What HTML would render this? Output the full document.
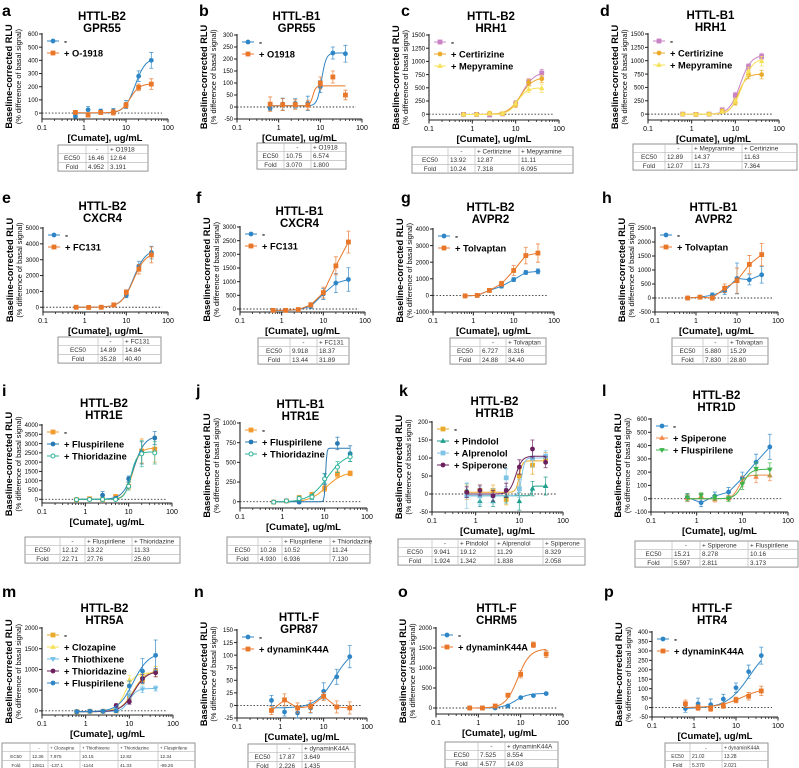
<!DOCTYPE html>
<html><head><meta charset="utf-8">
<style>
html,body{margin:0;padding:0;background:#fff;}
svg{display:block;font-family:"Liberation Sans",Arial,sans-serif;}
</style></head>
<body>
<svg id="fig" width="799" height="768" viewBox="0 0 799 768" xmlns="http://www.w3.org/2000/svg"></svg>
<script>
// ---- data ----
const doses = [0.625, 1.25, 2.5, 5, 10, 20, 40];
const xTickLabels = ["0.1", "1", "10", "100"];

const aBase = [-25, 25, 15, 15, 65, 280, 400];      const aBaseErr = [10, 25, 15, 20, 30, 40, 60];
const aO1918 = [5, -15, 5, 5, 60, 195, 220];         const aO1918Err = [10, 15, 15, 20, 20, 25, 40];
const bBase = [-5, 12, 15, 15, 85, 225, 222];        const bBaseErr = [10, 25, 20, 30, 25, 25, 35];
const bO1918 = [12, 10, 10, 8, 100, 125, 50];        const bO1918Err = [30, 25, 20, 20, 25, 25, 20];
const cBase = [-5, -5, -15, 5, 200, 610, 780];       const cBaseErr = [20, 20, 20, 30, 60, 60, 70];
const cCert = [-5, -5, 20, 10, 180, 600, 670];       const cCertErr = [20, 20, 30, 30, 50, 60, 70];
const cMepy = [-5, -5, 10, 10, 200, 470, 490];       const cMepyErr = [20, 20, 30, 30, 50, 60, 80];
const dBase = [0, -5, 0, 80, 350, 890, 1080];        const dBaseErr = [20, 20, 20, 30, 60, 50, 60];
const dCert = [0, -5, 0, 60, 220, 740, 740];         const dCertErr = [20, 20, 20, 30, 50, 80, 80];
const dMepy = [0, -5, 0, 50, 250, 800, 990];         const dMepyErr = [20, 20, 20, 30, 50, 80, 90];
const eBase = [0, -10, 0, 150, 750, 2600, 3450];     const eBaseErr = [50, 50, 50, 80, 150, 300, 400];
const eFC = [0, -10, 0, 150, 950, 2400, 3300];       const eFCErr = [50, 50, 50, 80, 150, 300, 500];
const fBase = [-50, -50, -30, 100, 550, 950, 1080];  const fBaseErr = [50, 50, 50, 80, 200, 350, 430];
const fFC = [-50, -50, -20, 150, 600, 1580, 2450];   const fFCErr = [50, 50, 50, 80, 200, 330, 400];
const gBase = [-30, 0, 300, 550, 950, 1380, 1450];   const gBaseErr = [60, 60, 80, 100, 120, 120, 150];
const gTolv = [-30, 0, 300, 700, 1500, 2400, 2550];  const gTolvErr = [60, 60, 80, 150, 300, 500, 550];
const hBase = [0, 30, 100, 250, 700, 650, 830];      const hBaseErr = [40, 40, 80, 120, 550, 180, 300];
const hTolv = [0, 30, 0, 350, 620, 1200, 1550];      const hTolvErr = [40, 40, 80, 150, 450, 320, 400];
const iBase = [-20, 30, -10, 150, 700, 2600, 2700];  const iBaseErr = [50, 50, 80, 80, 200, 650, 700];
const iFlus = [-20, -10, 220, 50, 1100, 2500, 3300]; const iFlusErr = [50, 50, 200, 80, 150, 600, 350];
const iThio = [-20, -10, -10, -10, 700, 2450, 2500]; const iThioErr = [50, 50, 80, 80, 200, 700, 600];
const jBase = [-5, 10, 50, 90, 170, 350, 360];       const jBaseErr = [15, 15, 30, 30, 40, 40, 30];
const jFlus = [-5, 10, -5, 60, 290, 740, 610];       const jFlusErr = [15, 15, 20, 30, 70, 80, 100];
const jThio = [-5, 10, 40, 60, 290, 440, 570];       const jThioErr = [15, 15, 30, 30, 60, 70, 60];
const kBase = [5, 10, 10, -15, 50, 80, 100];         const kBaseErr = [20, 15, 15, 15, 25, 25, 15];
const kPind = [10, -20, -20, -5, -20, 15, 22];       const kPindErr = [20, 15, 15, 20, 25, 20, 25];
const kAlpr = [-5, -5, -5, 45, 15, 100, 105];        const kAlprErr = [35, 25, 20, 25, 25, 25, 15];
const kSpip = [5, 10, -5, 10, 75, 125, 88];          const kSpipErr = [15, 15, 15, 20, 20, 25, 15];
const lBase = [10, -30, 20, 50, 155, 275, 390];      const lBaseErr = [30, 30, 30, 35, 45, 60, 95];
const lSpip = [5, 20, -5, 5, 130, 165, 175];         const lSpipErr = [25, 20, 20, 20, 40, 45, 40];
const lFlus = [10, 25, 10, 0, 110, 225, 220];        const lFlusErr = [25, 20, 20, 20, 40, 50, 50];
const mBase = [-20, -10, -10, 0, 350, 750, 950];     const mBaseErr = [30, 30, 30, 40, 80, 100, 120];
const mCloz = [-20, -10, -10, 50, 750, 850, 950];    const mClozErr = [30, 30, 30, 40, 100, 100, 120];
const mThix = [-20, -10, -10, 50, 350, 520, 540];    const mThixErr = [30, 30, 30, 40, 80, 80, 60];
const mThio = [-20, -10, -10, 130, 220, 780, 920];   const mThioErr = [30, 30, 30, 40, 60, 100, 100];
const mFlus = [-20, -10, -10, 0, 600, 960, 1340];    const mFlusErr = [30, 30, 30, 40, 120, 300, 370];
const nBase = [10, -13, -15, -5, 28, 57, 97];        const nBaseErr = [10, 8, 10, 10, 17, 15, 22];
const nDyn = [-10, 11, -5, -2, 18, -3, -5];          const nDynErr = [8, 12, 10, 12, 8, 12, 12];
const oBase = [0, 0, 0, 50, 260, 310, 360];          const oBaseErr = [15, 15, 15, 20, 25, 25, 25];
const oDyn = [0, 0, 50, 320, 840, 1580, 1350];       const oDynErr = [15, 15, 20, 40, 90, 70, 90];
const pBase = [-5, 20, 15, 45, 105, 190, 275];       const pBaseErr = [20, 30, 30, 25, 25, 35, 45];
const pDyn = [20, 0, -5, 10, 40, 60, 88];            const pDynErr = [20, 15, 15, 15, 15, 20, 25];

// ---- styles & layout ----
const BLUE = "#2f86c6", ORANGE = "#e8772a", PINK = "#c983c4", GOLD = "#eaaa2a", YEL = "#f7e05a",
      ORG2 = "#f49a2c", GREEN = "#2db39a", TEAL = "#1e9e8c", LBLUE = "#7fc3e6", PURP = "#6b1f5e",
      SORANGE = "#f28a4a", LGREEN = "#3cb44b";

function S(name, label, vals, errs, color, shape, fit) { return {name, label, vals, errs, color, shape, fit}; }

const panels = [
 {id:"a", letter:[2,16], t1:"HTTL-B2", t2:"GPR55", ty:16, L:42, R:168, top:34, bot:119, yMin:-45, yMax:600, step:100,
  series:[S("base","-",aBase,aBaseErr,BLUE,"circle",[16.5,420,0,3.5]), S("o1918","+ O-1918",aO1918,aO1918Err,ORANGE,"square",[12.6,222,2,4])],
  table:{x:58,y:145,w:[28,22,40],head:["","-","+ O1918"],ec:["16.46","12.64"],fold:["4.952","3.191"]}},
 {id:"b", letter:[199,16], t1:"HTTL-B1", t2:"GPR55", ty:16, L:237, R:362, top:35, bot:119, yMin:-50, yMax:300, step:50,
  series:[S("base","-",bBase,bBaseErr,BLUE,"circle",[10.75,225,5,8]), S("o1918","+ O1918",bO1918,bO1918Err,ORANGE,"square",[6.6,88,5,12])],
  table:{x:257,y:143,w:[27,27,35],head:["","-","+ O1918"],ec:["10.75","6.574"],fold:["3.070","1.800"]}},
 {id:"c", letter:[401,16], t1:"HTTL-B2", t2:"HRH1", ty:16, L:429, R:559, top:35, bot:120, yMin:-110, yMax:1500, step:250,
  series:[S("base","-",cBase,cBaseErr,PINK,"square",[13.9,800,-5,3]), S("certirizine","+ Certirizine",cCert,cCertErr,GOLD,"circle",[12.9,700,-5,3]), S("mepyramine","+ Mepyramine",cMepy,cMepyErr,YEL,"triangle",[11.1,500,-5,4])],
  table:{x:412,y:147,w:[36,27,44,54],head:["","-","+ Certirizine","+ Mepyramine"],ec:["13.92","12.87","11.11"],fold:["10.24","7.318","6.095"]}},
 {id:"d", letter:[600,16], t1:"HTTL-B1", t2:"HRH1", ty:15, L:648, R:779, top:34, bot:120, yMin:-110, yMax:1500, step:250,
  series:[S("base","-",dBase,dBaseErr,PINK,"square",[12.9,1110,0,3.5]), S("certirizine","+ Certirizine",dCert,dCertErr,GOLD,"circle",[11.6,750,0,4.5]), S("mepyramine","+ Mepyramine",dMepy,dMepyErr,YEL,"triangle",[14.4,1050,0,3.5])],
  table:{x:633,y:144,w:[32,27,50,55],head:["","-","+ Mepyramine","+ Certirizine"],ec:["12.89","14.37","11.63"],fold:["12.07","11.73","7.364"]}},
 {id:"e", letter:[2,203], t1:"HTTL-B2", t2:"CXCR4", ty:206, L:43, R:168, top:228, bot:312, yMin:-300, yMax:5000, step:1000,
  series:[S("base","-",eBase,eBaseErr,BLUE,"circle",[14.9,3650,0,3]), S("fc131","+ FC131",eFC,eFCErr,ORANGE,"square",[14.8,3450,0,3])],
  table:{x:58,y:337,w:[40,25,38],head:["","-","+ FC131"],ec:["14.89","14.84"],fold:["35.28","40.40"]}},
 {id:"f", letter:[196,203], t1:"HTTL-B1", t2:"CXCR4", ty:211, L:240, R:365, top:227, bot:312, yMin:-110, yMax:3000, step:500,
  series:[S("base","-",fBase,fBaseErr,BLUE,"circle",null), S("fc131","+ FC131",fFC,fFCErr,ORANGE,"square",null)],
  table:{x:258,y:338,w:[32,27,32],head:["","-","+ FC131"],ec:["9.918","18.37"],fold:["13.44","31.89"]}},
 {id:"g", letter:[401,203], t1:"HTTL-B2", t2:"AVPR2", ty:207, L:433, R:554, top:229, bot:312, yMin:-1000, yMax:4000, step:1000,
  series:[S("base","-",gBase,gBaseErr,BLUE,"circle",null), S("tolvaptan","+ Tolvaptan",gTolv,gTolvErr,ORANGE,"square",null)],
  table:{x:450,y:338,w:[30,26,40],head:["","-","+ Tolvaptan"],ec:["6.727","8.316"],fold:["24.88","34.40"]}},
 {id:"h", letter:[602,203], t1:"HTTL-B1", t2:"AVPR2", ty:207, L:655, R:778, top:228, bot:312, yMin:-500, yMax:2500, step:500,
  series:[S("base","-",hBase,hBaseErr,BLUE,"circle",null), S("tolvaptan","+ Tolvaptan",hTolv,hTolvErr,ORANGE,"square",null)],
  table:{x:672,y:338,w:[31,25,40],head:["","-","+ Tolvaptan"],ec:["5.880","15.29"],fold:["7.830","28.80"]}},
 {id:"i", letter:[2,396], t1:"HTTL-B2", t2:"HTR1E", ty:403, L:42, R:172, top:425, bot:503, yMin:-200, yMax:4000, step:500,
  series:[S("base","-",iBase,iBaseErr,ORG2,"square",[12.1,2750,0,5]), S("fluspirilene","+ Fluspirilene",iFlus,iFlusErr,"#2779b5","circle",[13.2,3400,0,3.5]), S("thioridazine","+ Thioridazine",iThio,iThioErr,GREEN,"open",[11.3,2550,0,6])],
  table:{x:25,y:537,w:[35,25,47,48],head:["","-","+ Fluspirilene","+ Thioridazine"],ec:["12.12","13.22","11.33"],fold:["22.71","27.76","25.60"]}},
 {id:"j", letter:[196,396], t1:"HTTL-B1", t2:"HTR1E", ty:404, L:240, R:367, top:423, bot:508, yMin:-80, yMax:1000, step:250,
  series:[S("base","-",jBase,jBaseErr,ORG2,"square",[11,380,-5,2.2]), S("fluspirilene","+ Fluspirilene",jFlus,jFlusErr,"#2779b5","circle",[10.5,680,0,30]), S("thioridazine","+ Thioridazine",jThio,jThioErr,GREEN,"open",[11.5,620,-5,2])],
  table:{x:227,y:537,w:[31,24,48,40],head:["","-","+ Fluspirilene","+ Thioridazine"],ec:["10.28","10.52","11.24"],fold:["4.930","6.936","7.130"]}},
 {id:"k", letter:[399,396], t1:"HTTL-B2", t2:"HTR1B", ty:401, L:432, R:563, top:422, bot:512, yMin:-50, yMax:200, step:50,
  series:[S("base","-",kBase,kBaseErr,GOLD,"square",[9.9,92,5,12]), S("pindolol","+ Pindolol",kPind,kPindErr,TEAL,"triangle",[19,22,-5,30]), S("alprenolol","+ Alprenolol",kAlpr,kAlprErr,LBLUE,"square",[11.3,100,-5,12]), S("spiperone","+ Spiperone",kSpip,kSpipErr,PURP,"circle",[8.3,105,0,6])],
  table:{x:398,y:539,w:[34,26,37,48,42],head:["","-","+ Pindolol","+ Alprenolol","+ Spiperone"],ec:["9.941","19.12","11.29","8.329"],fold:["1.924","1.342","1.838","2.058"]}},
 {id:"l", letter:[602,396], t1:"HTTL-B2", t2:"HTR1D", ty:395, L:651, R:788, top:419, bot:512, yMin:-100, yMax:600, step:100,
  series:[S("base","-",lBase,lBaseErr,BLUE,"circle",null), S("spiperone","+ Spiperone",lSpip,lSpipErr,SORANGE,"triangle",[8.3,178,0,6]), S("fluspirilene","+ Fluspirilene",lFlus,lFlusErr,LGREEN,"tridown",[10.2,222,0,5])],
  table:{x:635,y:541,w:[37,28,48,50],head:["","-","+ Spiperone","+ Fluspirilene"],ec:["15.21","8.278","10.16"],fold:["5.597","2.811","3.173"]}},
 {id:"m", letter:[2,597], t1:"HTTL-B2", t2:"HTR5A", ty:608, L:42, R:173, top:628, bot:715, yMin:-100, yMax:2000, step:500,
  series:[S("base","-",mBase,mBaseErr,GOLD,"square",[12.4,980,-20,3]), S("clozapine","+ Clozapine",mCloz,mClozErr,YEL,"triangle",[8,920,-20,4]), S("thiothixene","+ Thiothixene",mThix,mThixErr,"#70c0e8","tridown",[10,540,-20,5]), S("thioridazine","+ Thioridazine",mThio,mThioErr,PURP,"circle",[12.8,960,-20,3]), S("fluspirilene","+ Fluspirilene",mFlus,mFlusErr,BLUE,"circle",[12.3,1400,-20,2.5])],
  table:{x:2,y:743,w:[28,18,32,38,40,37],head:["","-","+ Clozapine","+ Thiothixene","+ Thioridazine","+ Fluspirilene"],ec:["12.36","7.975","10.15","12.82","12.34"],fold:["12811","-137.1","-1144","41.33","-99.26"],fs:4.6}},
 {id:"n", letter:[194,597], t1:"HTTL-F", t2:"GPR87", ty:617, L:237, R:367, top:630, bot:718, yMin:-25, yMax:150, step:25,
  series:[S("base","-",nBase,nBaseErr,BLUE,"circle",[17.9,115,-5,2]), S("dynamin","+ dynaminK44A",nDyn,nDynErr,ORANGE,"square",null)],
  table:{x:248,y:744,w:[29,25,53],head:["","-","+ dynaminK44A"],ec:["17.87","3.649"],fold:["2.226","1.435"]}},
 {id:"o", letter:[398,597], t1:"HTTL-F", t2:"CHRM5", ty:608, L:436, R:563, top:628, bot:714, yMin:-150, yMax:2000, step:500,
  series:[S("base","-",oBase,oBaseErr,BLUE,"circle",[7.5,365,0,3]), S("dynamin","+ dynaminK44A",oDyn,oDynErr,ORANGE,"square",[8.5,1480,0,3])],
  table:{x:445,y:742,w:[33,27,53],head:["","-","+ dynaminK44A"],ec:["7.525","8.554"],fold:["4.577","14.03"]}},
 {id:"p", letter:[604,597], t1:"HTTL-F", t2:"HTR4", ty:608, L:652, R:778, top:632, bot:717, yMin:-50, yMax:400, step:50,
  series:[S("base","-",pBase,pBaseErr,BLUE,"circle",[21,340,-5,1.6]), S("dynamin","+ dynaminK44A",pDyn,pDynErr,ORANGE,"square",[13.3,105,0,1.6])],
  table:{x:665,y:743,w:[25,32,46],head:["","-","+ dynaminK44A"],ec:["21.02","13.28"],fold:["5.370","2.021"],fs:5}}
];

const NS = "http://www.w3.org/2000/svg";
const svg = document.getElementById("fig");
function mk(tag, attrs, parent, text) {
  const e = document.createElementNS(NS, tag);
  for (const k in attrs) e.setAttribute(k, attrs[k]);
  if (text !== undefined) e.textContent = text;
  (parent || svg).appendChild(e);
  return e;
}
function marker(g, shape, cx, cy, color, r) {
  let el;
  if (shape === "circle") el = mk("circle", {cx, cy, r, fill: color}, g);
  else if (shape === "open") el = mk("circle", {cx, cy, r: r - 0.4, fill: "#fff", stroke: color, "stroke-width": 1}, g);
  else if (shape === "square") el = mk("rect", {x: cx - r, y: cy - r, width: 2 * r, height: 2 * r, fill: color}, g);
  else if (shape === "triangle") el = mk("polygon", {points: `${cx},${cy - r - 0.6} ${cx - r - 0.4},${cy + r * 0.8} ${cx + r + 0.4},${cy + r * 0.8}`, fill: color}, g);
  else el = mk("polygon", {points: `${cx},${cy + r + 0.6} ${cx - r - 0.4},${cy - r * 0.8} ${cx + r + 0.4},${cy - r * 0.8}`, fill: color}, g);
  return el;
}

panels.forEach(p => {
  const g = mk("g", {});
  
  
  const xs = v => p.L + (Math.log10(v) + 1) / 3 * (p.R - p.L);
  const ys = v => p.bot - (v - p.yMin) / (p.yMax - p.yMin) * (p.bot - p.top);

  const lt = mk("text", {x: p.letter[0], y: p.letter[1], "font-size": 16, "font-weight": "bold", fill: "#000"}, g, p.id);
  
  
  const cx = (p.L + p.R) / 2 - 3;
  const t1 = mk("text", {x: cx, y: p.ty + 4, "font-size": 11.5, "font-weight": "bold", "text-anchor": "middle"}, g, p.t1);
  
  
  const t2 = mk("text", {x: cx, y: p.ty + 16, "font-size": 11.5, "font-weight": "bold", "text-anchor": "middle"}, g, p.t2);
  
  

  // y axis title
  const ym = (p.top + p.bot) / 2;
  const yt1 = mk("text", {x: 0, y: 0, "font-size": 9.2, "font-weight": "bold", "text-anchor": "middle", transform: `translate(${p.L - 30},${ym}) rotate(-90)`}, g, "Baseline-corrected RLU");
  
  
  const yt2 = mk("text", {x: 0, y: 0, "font-size": 7.4, "text-anchor": "middle", transform: `translate(${p.L - 21},${ym}) rotate(-90)`}, g, "(% difference of basal signal)");
  
  

  // axes
  const ax = mk("path", {d: `M${p.L},${p.top - 1}V${p.bot}H${p.R}`, stroke: "#222", "stroke-width": 1.1, fill: "none"}, g);
  
  
  for (let v = Math.ceil(p.yMin / p.step) * p.step; v <= p.yMax + 1e-9; v += p.step) {
    const y = ys(v);
    mk("line", {x1: p.L - 3, x2: p.L, y1: y, y2: y, stroke: "#222", "stroke-width": 1}, g);
    const tl = mk("text", {x: p.L - 4, y: y + 2.2, "font-size": 6, "text-anchor": "end"}, g, String(v));
    
    
  }
  for (let d = -1; d <= 2; d++) {
    const x = xs(Math.pow(10, d));
    mk("line", {x1: x, x2: x, y1: p.bot, y2: p.bot + 3.5, stroke: "#222", "stroke-width": 1}, g);
    const tl = mk("text", {x, y: p.bot + 11, "font-size": 7, "text-anchor": "middle"}, g, xTickLabels[d + 1]);
    
    
    if (d < 2) for (let m = 2; m <= 9; m++) {
      const xm = xs(m * Math.pow(10, d));
      mk("line", {x1: xm, x2: xm, y1: p.bot, y2: p.bot + 2, stroke: "#222", "stroke-width": 0.8}, g);
    }
  }
  const xl = mk("text", {x: (p.L + p.R) / 2, y: p.bot + 22, "font-size": 9.5, "font-weight": "bold", "text-anchor": "middle"}, g, "[Cumate], ug/mL");
  
  
  // zero line
  const zl = mk("line", {x1: p.L, x2: p.R - 6, y1: ys(0), y2: ys(0), stroke: "#333", "stroke-width": 0.9, "stroke-dasharray": "1.5,1.8"}, g);
  
  

  // series
  p.series.forEach((s, si) => {
    const sg = mk("g", {}, g);
    
    
    let d = "";
    if (s.fit) {
      const [ec, top, bottom, h] = s.fit;
      for (let i = 0; i <= 80; i++) {
        const x = Math.pow(10, Math.log10(doses[0]) + i / 80 * (Math.log10(doses[doses.length - 1]) - Math.log10(doses[0])));
        const y = bottom + (top - bottom) / (1 + Math.pow(ec / x, h));
        d += (i ? "L" : "M") + xs(x).toFixed(2) + "," + ys(y).toFixed(2);
      }
    } else {
      s.vals.forEach((v, i) => { d += (i ? "L" : "M") + xs(doses[i]).toFixed(2) + "," + ys(v).toFixed(2); });
    }
    const ln = mk("path", {d, stroke: s.color, "stroke-width": 1, fill: "none"}, sg);
    
    
    s.vals.forEach((v, i) => {
      const x = xs(doses[i]), y = ys(v), e = s.errs[i];
      const y1 = ys(v + e), y2 = ys(v - e);
      const eb = mk("path", {d: `M${x},${y1}V${y2}M${x - 2},${y1}H${x + 2}M${x - 2},${y2}H${x + 2}`, stroke: s.color, "stroke-width": 0.8, fill: "none", opacity: 0.85}, sg);
      
      
      const mkr = marker(sg, s.shape, x, y, s.color, 2.4);
      
      
    });
    // legend
    const ly = p.top + 7 + si * 12;
    const lg = mk("g", {}, g);
    
    
    mk("line", {x1: p.L + 5, x2: p.L + 17, y1: ly, y2: ly, stroke: s.color, "stroke-width": 1}, lg);
    marker(lg, s.shape, p.L + 11, ly, s.color, 2.4);
    mk("text", {x: p.L + 22, y: ly + 3.3, "font-size": 9.3, "font-weight": "bold"}, lg, s.label);
  });

  // table
  const t = p.table, rh = 8.7, fs = t.fs || 6.4;
  const tg = mk("g", {}, g);
  
  
  const tw = t.w.reduce((a, b) => a + b, 0);
  mk("rect", {x: t.x, y: t.y, width: tw, height: rh * 3, fill: "#fff", stroke: "#888", "stroke-width": 0.9}, tg);
  for (let r = 1; r < 3; r++) mk("line", {x1: t.x, x2: t.x + tw, y1: t.y + r * rh, y2: t.y + r * rh, stroke: "#bbb", "stroke-width": 0.7}, tg);
  let cxp = t.x;
  const rows = [t.head, ["EC50"].concat(t.ec), ["Fold"].concat(t.fold)];
  t.w.forEach((w, ci) => {
    if (ci > 0) mk("line", {x1: cxp, x2: cxp, y1: t.y, y2: t.y + rh * 3, stroke: "#bbb", "stroke-width": 0.7}, tg);
    rows.forEach((row, ri) => {
      const txt = row[ci];
      if (!txt) return;
      const centered = ci === 0 || (ri === 0 && txt === "-");
      const cell = mk("text", {x: centered ? cxp + w / 2 : cxp + 2, y: t.y + ri * rh + rh - 2.2, "font-size": fs, fill: "#333", "text-anchor": centered ? "middle" : "start"}, tg, txt);
      
      
    });
    cxp += w;
  });
});
</script>
</body></html>
